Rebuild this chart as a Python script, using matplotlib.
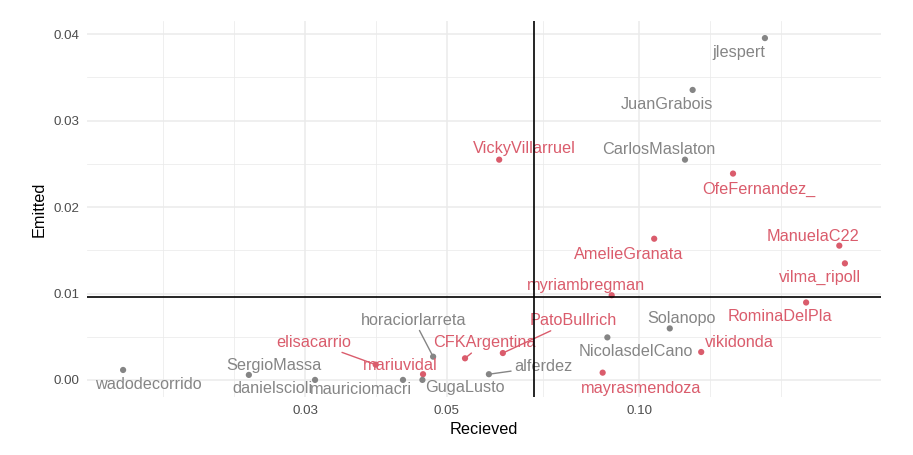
import numpy as np
import matplotlib
matplotlib.use("Agg")
import matplotlib.pyplot as plt
from matplotlib.ticker import FixedLocator, FixedFormatter, NullFormatter

# ---------------- data ----------------
users = ["jlespert", "JuanGrabois", "CarlosMaslaton", "VickyVillarruel", "OfeFernandez_",
         "AmelieGranata", "ManuelaC22", "vilma_ripoll", "myriambregman", "RominaDelPla",
         "Solanopo", "NicolasdelCano", "vikidonda", "PatoBullrich", "CFKArgentina",
         "alferdez", "mayrasmendoza", "horaciorlarreta", "mariuvidal", "GugaLusto",
         "mauriciomacri", "elisacarrio", "danielscioli", "SergioMassa", "wadodecorrido"]
received = [0.1574, 0.1213, 0.1180, 0.0604, 0.1403,
            0.1056, 0.2058, 0.2100, 0.0906, 0.1826,
            0.1117, 0.0892, 0.1251, 0.0612, 0.0534,
            0.0582, 0.0877, 0.0476, 0.0459, 0.0458,
            0.0427, 0.0387, 0.0311, 0.0245, 0.01557]
emitted = [0.03956, 0.03356, 0.02549, 0.02549, 0.02388,
           0.01634, 0.01554, 0.01349, 0.00980, 0.00896,
           0.00596, 0.00492, 0.00323, 0.00311, 0.00250,
           0.00066, 0.00084, 0.00269, 0.00066, 0.00000,
           0.00000, 0.00177, 0.00000, 0.00058, 0.00115]
group = ["M", "M", "M", "F", "F",
         "F", "F", "F", "F", "F",
         "M", "M", "F", "F", "F",
         "M", "F", "M", "F", "M",
         "M", "F", "M", "M", "M"]
emitted_ref = 0.0096
received_ref = 0.0685

x_breaks = [0.03, 0.05, 0.10]
x_labels = ["0.03", "0.05", "0.10"]
y_breaks = [0.00, 0.01, 0.02, 0.03, 0.04]
y_labels = ["0.00", "0.01", "0.02", "0.03", "0.04"]

# ---------------- layout / style ----------------
colors = {"F": "#DA5C6C", "M": "#858585"}
# label offsets from point, in pixels (dx, dy up)
label_offsets = {
    "jlespert": (-26, -13), "JuanGrabois": (-26, -13), "CarlosMaslaton": (-26, 12),
    "VickyVillarruel": (25, 13), "OfeFernandez_": (26, -14), "AmelieGranata": (-26, -14),
    "ManuelaC22": (-26, 11), "vilma_ripoll": (-25, -13), "myriambregman": (-26, 11),
    "RominaDelPla": (-26, -13), "Solanopo": (12, 11), "NicolasdelCano": (28, -13),
    "vikidonda": (38, 11), "PatoBullrich": (70, 34), "CFKArgentina": (19, 17),
    "alferdez": (54, 9), "mayrasmendoza": (38, -14), "horaciorlarreta": (-19, 38),
    "mariuvidal": (-23, 10), "GugaLusto": (42, -6), "mauriciomacri": (-42, -8),
    "elisacarrio": (-62, 24), "danielscioli": (-43, -7), "SergioMassa": (25, 11),
    "wadodecorrido": (25, -13),
}
label_shift_y = -1.5
segment_users = {"PatoBullrich", "CFKArgentina", "alferdez", "horaciorlarreta", "elisacarrio"}

plt.rcParams["font.family"] = ["Liberation Sans", "DejaVu Sans"]

W, H = 913, 455
fig = plt.figure(figsize=(W / 100, H / 100), dpi=100)
L, R, T, B = 87, 881, 21, 397
ax = fig.add_axes([L / W, 1 - B / H, (R - L) / W, (B - T) / H])

ax.set_xscale("log")
lx = np.log10(received)
pad = 0.05 * (lx.max() - lx.min())
ax.set_xlim(10 ** (lx.min() - pad), 10 ** (lx.max() + pad))
ey = np.array(emitted)
pad_y = 0.05 * (ey.max() - ey.min())
ax.set_ylim(ey.min() - pad_y, ey.max() + pad_y)

# ggplot-like minor breaks
b = list(np.log10(x_breaks))
bd = b[1] - b[0]
bext = [b[0] - bd] + b + [b[-1] + bd]
minor = []
for i in range(len(bext) - 1):
    minor.append(bext[i]); minor.append((bext[i] + bext[i + 1]) / 2)
minor.append(bext[-1])
minor = [10 ** m for m in minor if not any(abs(m - mb) < 1e-9 for mb in b)]

ax.xaxis.set_major_locator(FixedLocator(x_breaks))
ax.xaxis.set_major_formatter(FixedFormatter(x_labels))
ax.xaxis.set_minor_locator(FixedLocator(minor))
ax.xaxis.set_minor_formatter(NullFormatter())
yb = y_breaks
ax.yaxis.set_major_locator(FixedLocator(yb))
ax.yaxis.set_major_formatter(FixedFormatter(y_labels))
ymin = [(yb[i] + yb[i + 1]) / 2 for i in range(len(yb) - 1)]
ax.yaxis.set_minor_locator(FixedLocator(ymin))
ax.yaxis.set_minor_formatter(NullFormatter())

ax.grid(True, which="major", color="#EBEBEB", linewidth=1.1)
ax.grid(True, which="minor", color="#EBEBEB", linewidth=0.55)
ax.set_axisbelow(True)
for s in ax.spines.values():
    s.set_visible(False)
ax.tick_params(which="both", length=0)
ax.tick_params(axis="x", pad=6, labelsize=9.6, labelcolor="#4D4D4D")
ax.tick_params(axis="y", pad=5.5, labelsize=9.6, labelcolor="#4D4D4D")

cols = [colors[g] for g in group]
ax.scatter(received, emitted, s=20, c=cols, linewidths=0, zorder=2)

for u, x, y, g in zip(users, received, emitted, group):
    dx, dy = label_offsets[u]
    kw = {}
    if u in segment_users:
        kw["arrowprops"] = dict(arrowstyle="-", color=colors[g], lw=1.0,
                                shrinkA=0, shrinkB=2)
    ax.annotate(u, (x, y), xytext=(dx, dy + label_shift_y), textcoords="offset pixels",
                ha="center", va="center", fontsize=11.7, color=colors[g],
                zorder=3, **kw)

ax.axhline(emitted_ref, color="black", lw=1.2, zorder=4)
ax.axvline(received_ref, color="black", lw=1.2, zorder=4)

ax.set_xlabel("Recieved", fontsize=11.7, labelpad=3)
ax.set_ylabel("Emitted", fontsize=11.7, labelpad=5)

fig.savefig("out.png", dpi=100)
